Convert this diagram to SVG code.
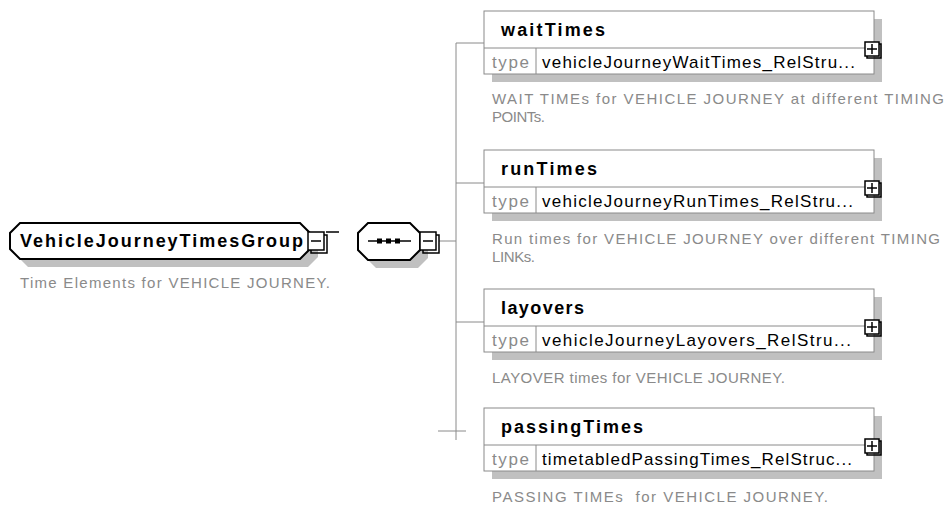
<svg xmlns="http://www.w3.org/2000/svg" width="947" height="507" viewBox="0 0 947 507">
<style>
.bg{fill:#ffffff}
.shadow{fill:#c0c0c0;stroke:none}
.oct{fill:#ffffff;stroke:#000000;stroke-width:2}
.box{fill:#ffffff;stroke:#8a8a8a;stroke-width:1}
.div{stroke:#8a8a8a;stroke-width:1;fill:none}
.conn{stroke:#8a8a8a;stroke-width:1;fill:none}
.btn{fill:#ffffff;stroke:#000000;stroke-width:1.5}
.btnline{stroke:#000000;stroke-width:1.5;fill:none}
.name{font-family:"Liberation Sans",Arial,sans-serif;font-weight:bold;font-size:18px;fill:#000000}
.ename{font-family:"Liberation Sans",Arial,sans-serif;font-weight:bold;font-size:18px;fill:#000000}
.type{font-family:"Liberation Sans",Arial,sans-serif;font-size:17px;fill:#8a8a8a}
.val{font-family:"Liberation Sans",Arial,sans-serif;font-size:17px;fill:#000000}
.desc{font-family:"Liberation Sans",Arial,sans-serif;font-size:15px;fill:#8a8a8a}
</style>
<rect class="bg" x="0" y="0" width="947" height="507"/>

<g id="connectors">
<line class="conn" x1="456" y1="43" x2="456" y2="440"/>
<line class="conn" x1="456" y1="43" x2="484" y2="43"/>
<line class="conn" x1="456" y1="183" x2="484" y2="183"/>
<line class="conn" x1="456" y1="322" x2="484" y2="322"/>
<line class="conn" x1="438" y1="431" x2="466" y2="431"/>
<line class="conn" x1="439" y1="241" x2="456" y2="241"/>
<line class="btnline" x1="326" y1="232" x2="339" y2="232"/>
</g>

<g id="VehicleJourneyTimesGroup">
<path class="shadow" d="M28,231 H308 L318,241 V257 L308,267 H28 L18,257 V241 Z"/>
<path class="oct" d="M20,223 H300 L310,233 V249 L300,259 H20 L10,249 V233 Z"/>
<text class="ename" x="20" y="247" textLength="283" lengthAdjust="spacing">VehicleJourneyTimesGroup</text>
<rect class="btnline" x="311" y="235" width="16" height="18" fill="#ffffff"/>
<rect class="btn" x="308" y="232" width="16" height="18"/>
<line class="btnline" x1="311" y1="241" x2="321" y2="241"/>
<text class="desc" x="20" y="288" textLength="310" lengthAdjust="spacing">Time Elements for VEHICLE JOURNEY.</text>
</g>

<g id="sequence">
<path class="shadow" d="M376,231 H418 L428,241 V258 L418,268 H376 L366,258 V241 Z"/>
<path class="oct" d="M368,223 H410 L420,233 V250 L410,260 H368 L358,250 V233 Z"/>
<line class="btnline" x1="368" y1="241" x2="411" y2="241"/>
<rect x="377" y="238.5" width="5" height="5" fill="#000000"/>
<rect x="386" y="238.5" width="5" height="5" fill="#000000"/>
<rect x="395" y="238.5" width="5" height="5" fill="#000000"/>
<rect class="btnline" x="423" y="235" width="16" height="18" fill="#ffffff"/>
<rect class="btn" x="420" y="232" width="16" height="18"/>
<line class="btnline" x1="423" y1="241" x2="433" y2="241"/>
</g>

<g id="waitTimes">
<rect class="shadow" x="492" y="19" width="390" height="63"/>
<rect class="box" x="484" y="11" width="390" height="63"/>
<line class="div" x1="484" y1="48" x2="874" y2="48"/>
<line class="div" x1="536" y1="48" x2="536" y2="74"/>
<text class="name" x="501" y="36" textLength="104" lengthAdjust="spacing">waitTimes</text>
<text class="type" x="492" y="68" textLength="37" lengthAdjust="spacing">type</text>
<text class="val" x="542" y="68" textLength="313" lengthAdjust="spacing">vehicleJourneyWaitTimes_RelStru...</text>
<rect class="btnline" x="867" y="44" width="14" height="14" fill="#ffffff"/>
<rect class="btn" x="865" y="42" width="14" height="14"/>
<line class="btnline" x1="867" y1="49" x2="877" y2="49"/>
<line class="btnline" x1="872" y1="44" x2="872" y2="54"/>
<text class="desc" x="492" y="104" textLength="452" lengthAdjust="spacing">WAIT TIMEs for VEHICLE JOURNEY at different TIMING</text>
<text class="desc" x="492" y="122" textLength="53" lengthAdjust="spacing">POINTs.</text>
</g>

<g id="runTimes">
<rect class="shadow" x="492" y="158" width="390" height="63"/>
<rect class="box" x="484" y="150" width="390" height="63"/>
<line class="div" x1="484" y1="187" x2="874" y2="187"/>
<line class="div" x1="536" y1="187" x2="536" y2="213"/>
<text class="name" x="501" y="175" textLength="96" lengthAdjust="spacing">runTimes</text>
<text class="type" x="492" y="207" textLength="37" lengthAdjust="spacing">type</text>
<text class="val" x="542" y="207" textLength="311" lengthAdjust="spacing">vehicleJourneyRunTimes_RelStru...</text>
<rect class="btnline" x="867" y="183" width="14" height="14" fill="#ffffff"/>
<rect class="btn" x="865" y="181" width="14" height="14"/>
<line class="btnline" x1="867" y1="188" x2="877" y2="188"/>
<line class="btnline" x1="872" y1="183" x2="872" y2="193"/>
<text class="desc" x="492" y="244" textLength="448" lengthAdjust="spacing">Run times for VEHICLE JOURNEY over different TIMING</text>
<text class="desc" x="492" y="262" textLength="43" lengthAdjust="spacing">LINKs.</text>
</g>

<g id="layovers">
<rect class="shadow" x="492" y="297" width="390" height="63"/>
<rect class="box" x="484" y="289" width="390" height="63"/>
<line class="div" x1="484" y1="326" x2="874" y2="326"/>
<line class="div" x1="536" y1="326" x2="536" y2="352"/>
<text class="name" x="501" y="314" textLength="83" lengthAdjust="spacing">layovers</text>
<text class="type" x="492" y="346" textLength="37" lengthAdjust="spacing">type</text>
<text class="val" x="542" y="346" textLength="309" lengthAdjust="spacing">vehicleJourneyLayovers_RelStru...</text>
<rect class="btnline" x="867" y="322" width="14" height="14" fill="#ffffff"/>
<rect class="btn" x="865" y="320" width="14" height="14"/>
<line class="btnline" x1="867" y1="327" x2="877" y2="327"/>
<line class="btnline" x1="872" y1="322" x2="872" y2="332"/>
<text class="desc" x="492" y="383" textLength="293" lengthAdjust="spacing">LAYOVER times for VEHICLE JOURNEY.</text>
</g>

<g id="passingTimes">
<rect class="shadow" x="492" y="416" width="390" height="63"/>
<rect class="box" x="484" y="408" width="390" height="63"/>
<line class="div" x1="484" y1="445" x2="874" y2="445"/>
<line class="div" x1="536" y1="445" x2="536" y2="471"/>
<text class="name" x="501" y="433" textLength="142" lengthAdjust="spacing">passingTimes</text>
<text class="type" x="492" y="465" textLength="37" lengthAdjust="spacing">type</text>
<text class="val" x="542" y="465" textLength="310" lengthAdjust="spacing">timetabledPassingTimes_RelStruc...</text>
<rect class="btnline" x="867" y="441" width="14" height="14" fill="#ffffff"/>
<rect class="btn" x="865" y="439" width="14" height="14"/>
<line class="btnline" x1="867" y1="446" x2="877" y2="446"/>
<line class="btnline" x1="872" y1="441" x2="872" y2="451"/>
<text class="desc" x="492" y="502" textLength="336" lengthAdjust="spacing" xml:space="preserve">PASSING TIMEs  for VEHICLE JOURNEY.</text>
</g>
</svg>
